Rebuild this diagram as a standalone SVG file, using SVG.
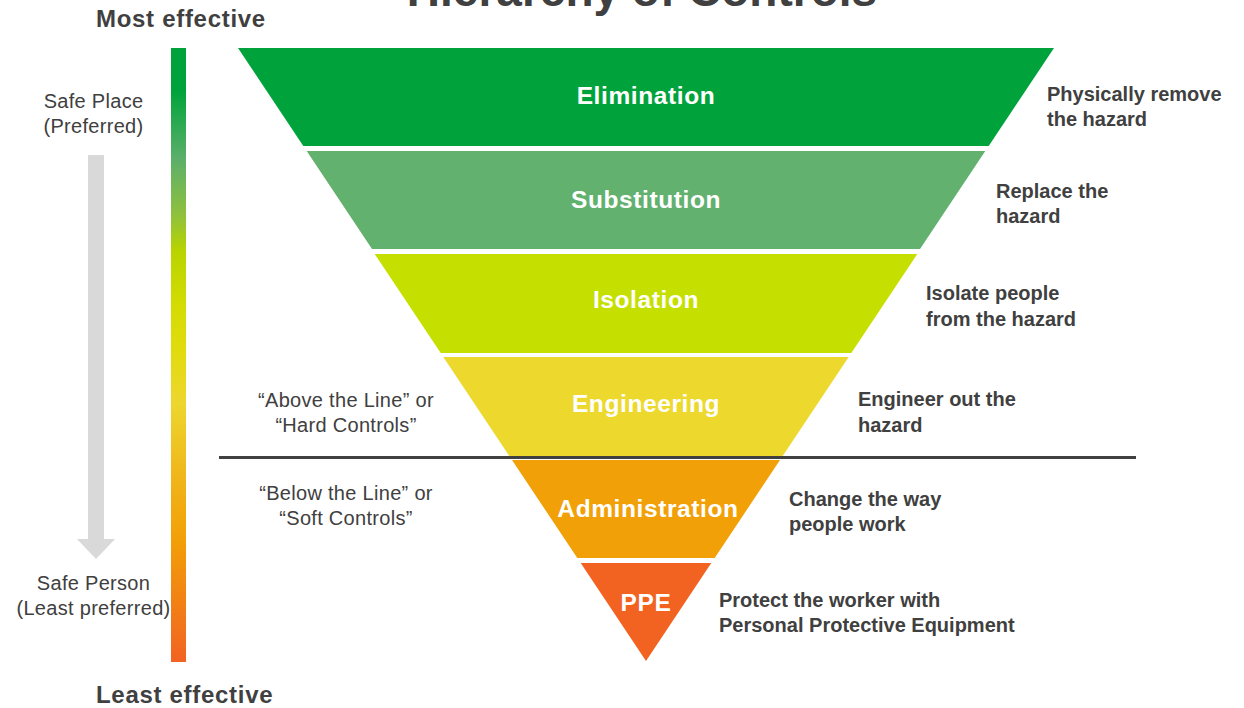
<svg xmlns="http://www.w3.org/2000/svg" width="1244" height="708" viewBox="0 0 1244 708">
  <defs>
    <linearGradient id="effGrad" x1="0" y1="0" x2="0" y2="1">
      <stop offset="0" stop-color="#00A33B"/>
      <stop offset="0.07" stop-color="#00A33B"/>
      <stop offset="0.18" stop-color="#5BAF6A"/>
      <stop offset="0.27" stop-color="#8EC03F"/>
      <stop offset="0.33" stop-color="#B8D400"/>
      <stop offset="0.42" stop-color="#D4DC00"/>
      <stop offset="0.50" stop-color="#E2DB10"/>
      <stop offset="0.58" stop-color="#EDD62E"/>
      <stop offset="0.70" stop-color="#F0B51A"/>
      <stop offset="0.80" stop-color="#F2A007"/>
      <stop offset="1" stop-color="#F26322"/>
    </linearGradient>
    <style>
      text { font-family: "Liberation Sans", Arial, sans-serif; fill: #404040; }
      .title { font-size: 46px; font-weight: bold; text-anchor: middle; }
      .endlbl { font-size: 24px; font-weight: bold; letter-spacing: 0.7px; }
      .side { font-size: 20px; text-anchor: middle; letter-spacing: 0.3px; }
      .desc { font-size: 20px; font-weight: bold; }
      .layer { font-size: 24.5px; font-weight: bold; fill: #FFFFFF; text-anchor: middle; letter-spacing: 0.6px; }
    </style>
  </defs>

  <rect width="1244" height="708" fill="#FFFFFF"/>

  <text class="title" x="642" y="6">Hierarchy of Controls</text>
  <text class="endlbl" x="96" y="27">Most effective</text>
  <text class="endlbl" x="96" y="703">Least effective</text>

  <g id="effectiveness-bar">
    <rect x="171" y="48" width="15" height="614" fill="url(#effGrad)"/>
  </g>

  <g id="preference-arrow">
    <polygon points="88,155 104,155 104,539 115,539 96,559 77,539 88,539" fill="#D9D9D9"/>
    <text class="side" x="93.5" y="108">Safe Place</text>
    <text class="side" x="93.5" y="133">(Preferred)</text>
    <text class="side" x="93.5" y="590">Safe Person</text>
    <text class="side" x="93.5" y="615">(Least preferred)</text>
  </g>

  <g id="connectors">
    <line x1="219" y1="457.5" x2="1136" y2="457.5" stroke="#404040" stroke-width="3"/>
  </g>

  <g id="line-labels">
    <text class="side" x="346" y="407">“Above the Line” or</text>
    <text class="side" x="346" y="432">“Hard Controls”</text>
    <text class="side" x="346" y="500">“Below the Line” or</text>
    <text class="side" x="346" y="525">“Soft Controls”</text>
  </g>

  <g id="elimination">
    <polygon points="238,48 1054,48 988.7,146 303.3,146" fill="#00A33B"/>
    <text class="layer" x="646" y="104">Elimination</text>
    <text class="desc" x="1047" y="101">Physically remove</text>
    <text class="desc" x="1047" y="126">the hazard</text>
  </g>

  <g id="substitution">
    <polygon points="306.7,151 985.3,151 920,249 372,249" fill="#62B16E"/>
    <text class="layer" x="646" y="208">Substitution</text>
    <text class="desc" x="996" y="198">Replace the</text>
    <text class="desc" x="996" y="223">hazard</text>
  </g>

  <g id="isolation">
    <polygon points="374.7,254 917.3,254 851.3,353 440.7,353" fill="#C5DF00"/>
    <text class="layer" x="646" y="308">Isolation</text>
    <text class="desc" x="926" y="300">Isolate people</text>
    <text class="desc" x="926" y="326">from the hazard</text>
  </g>

  <g id="engineering">
    <polygon points="443.3,357 848.7,357 782.7,456 509.3,456" fill="#EDD92E"/>
    <text class="layer" x="646" y="412">Engineering</text>
    <text class="desc" x="858" y="406">Engineer out the</text>
    <text class="desc" x="858" y="432">hazard</text>
  </g>

  <g id="administration">
    <polygon points="512,460 780,460 714.7,558 577.3,558" fill="#F2A007"/>
    <text class="layer" x="648" y="517">Administration</text>
    <text class="desc" x="789" y="506">Change the way</text>
    <text class="desc" x="789" y="531">people work</text>
  </g>

  <g id="ppe">
    <polygon points="580.7,563 711.3,563 646,661" fill="#F26322"/>
    <text class="layer" x="646" y="611">PPE</text>
    <text class="desc" x="719" y="607">Protect the worker with</text>
    <text class="desc" x="719" y="632">Personal Protective Equipment</text>
  </g>
</svg>
